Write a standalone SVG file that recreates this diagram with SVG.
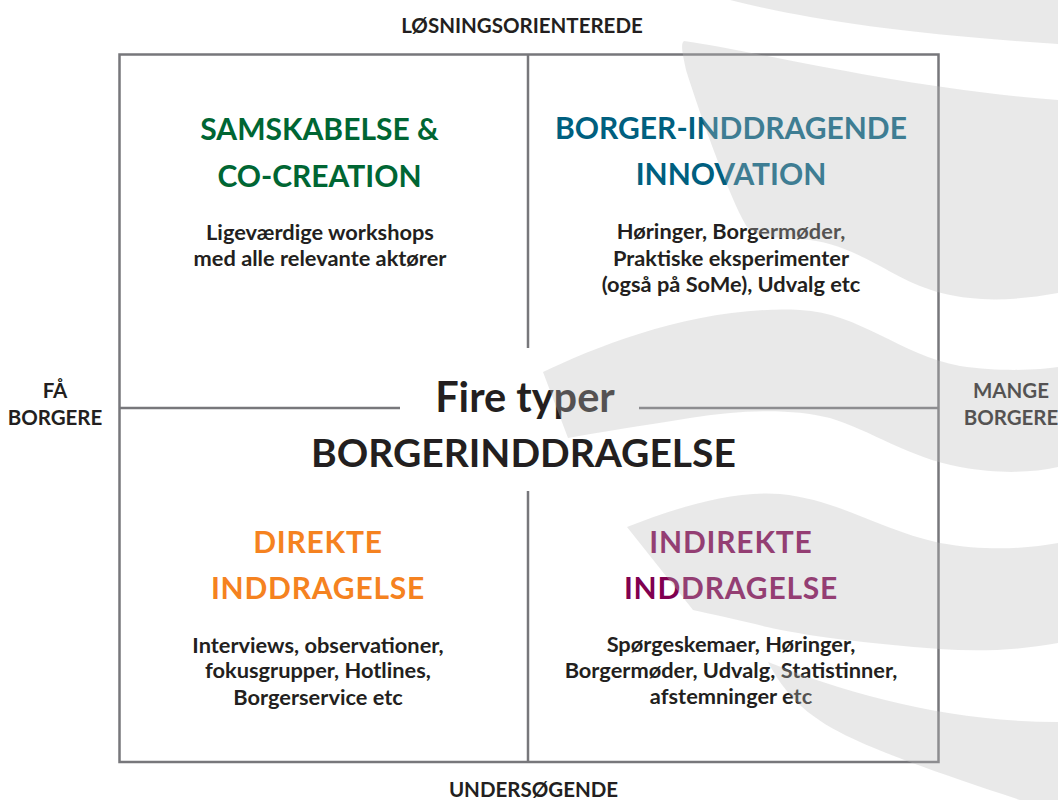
<svg xmlns="http://www.w3.org/2000/svg" width="1058" height="800" viewBox="0 0 1058 800">
<style>
text{font-family:Lato,"Open Sans","Liberation Sans",sans-serif;font-weight:700;text-anchor:middle}
.axis{font-size:20.5px;fill:#231f20}
.title{font-size:30px}
.sp{letter-spacing:0.8px}
.body{font-size:21.8px;fill:#231f20}
.big{fill:#231f20}
.line{stroke:#77777b;stroke-width:2.5;fill:none}
.wave{fill:#bcbcbc;fill-opacity:0.33}
</style>
<rect width="1058" height="800" fill="#ffffff"/>
<g id="connectors">
<rect class="line" x="119.5" y="54.5" width="819" height="707.5"/>
<line class="line" x1="528" y1="54.5" x2="528" y2="348"/>
<line class="line" x1="528" y1="491" x2="528" y2="762"/>
<line class="line" x1="119.5" y1="408" x2="400" y2="408"/>
<line class="line" x1="639" y1="408" x2="938.5" y2="408"/>
</g>
<g id="axis-top"><text class="axis" x="522" y="33">LØSNINGSORIENTEREDE</text></g>
<g id="axis-bottom"><text class="axis" x="533.5" y="797">UNDERSØGENDE</text></g>
<g id="axis-left"><text class="axis" x="55" y="398">FÅ</text><text class="axis" x="55" y="425">BORGERE</text></g>
<g id="axis-right"><text class="axis" x="1011" y="398">MANGE</text><text class="axis" x="1011" y="425">BORGERE</text></g>
<g id="quad-samskabelse">
<text class="title" x="319.5" y="140" fill="#006633">SAMSKABELSE &amp;</text>
<text class="title" x="319.5" y="186.5" fill="#006633">CO-CREATION</text>
<text class="body" x="320" y="239.5">Ligeværdige workshops</text>
<text class="body" x="320" y="265.7">med alle relevante aktører</text>
</g>
<g id="quad-borgerinddragende">
<text class="title" x="731" y="139.3" fill="#005f7f" font-size="29.3">BORGER-INDDRAGENDE</text>
<text class="title" x="731" y="185" fill="#005f7f">INNOVATION</text>
<text class="body" x="731" y="239.3">Høringer, Borgermøder,</text>
<text class="body" x="731" y="265.7">Praktiske eksperimenter</text>
<text class="body" x="731" y="291.7">(også på SoMe), Udvalg etc</text>
</g>
<g id="quad-direkte">
<text class="title sp" x="318" y="552.7" fill="#f58220">DIREKTE</text>
<text class="title sp" x="318" y="598.7" fill="#f58220">INDDRAGELSE</text>
<text class="body" x="318" y="652.7">Interviews, observationer,</text>
<text class="body" x="318" y="678.3">fokusgrupper, Hotlines,</text>
<text class="body" x="318" y="705">Borgerservice etc</text>
</g>
<g id="quad-indirekte">
<text class="title sp" x="731" y="553.3" fill="#800050">INDIREKTE</text>
<text class="title sp" x="731" y="599.3" fill="#800050">INDDRAGELSE</text>
<text class="body" x="731" y="651.7">Spørgeskemaer, Høringer,</text>
<text class="body" x="731" y="678.3">Borgermøder, Udvalg, Statistinner,</text>
<text class="body" x="731" y="704">afstemninger etc</text>
</g>
<g id="center-title">
<text class="big" x="525" y="411.7" font-size="41.5">Fire typer</text>
<text class="big" x="523.5" y="467.3" font-size="39">BORGERINDDRAGELSE</text>
</g>
<g id="waves">
<path class="wave" d="M730 0 C800 18 900 34 1058 44 L1058 0 Z"/>
<path class="wave" d="M684 41 C760 52 900 88 1058 100 L1058 293 C1025 299 995 301 970 298 C930 294 905 280 880 266 C850 250 830 241 800 239 C775 238 758 237 748 228 C735 210 705 130 686 70 C683 55 680 44 684 41 Z"/>
<path class="wave" d="M543 372 C600 345 700 305 800 310 C860 313 900 355 960 366 C1000 372 1040 370 1058 367 L1058 467 C1030 473 1000 474 960 467 C910 458 870 430 830 418 C790 408 740 410 690 418 C640 426 600 432 568 438 Z"/>
<path class="wave" d="M627 527 C670 510 730 490 780 494 C840 500 880 530 940 543 C990 552 1030 548 1058 543 L1058 643 C1020 650 980 652 940 649 C870 644 800 635 767 627 C740 620 710 614 693 610 Z"/>
<path class="wave" d="M768 662 C850 695 950 722 1058 722 L1058 800 L1020 800 C960 780 900 760 860 742 C820 724 790 705 768 662 Z"/>
</g>
</svg>
